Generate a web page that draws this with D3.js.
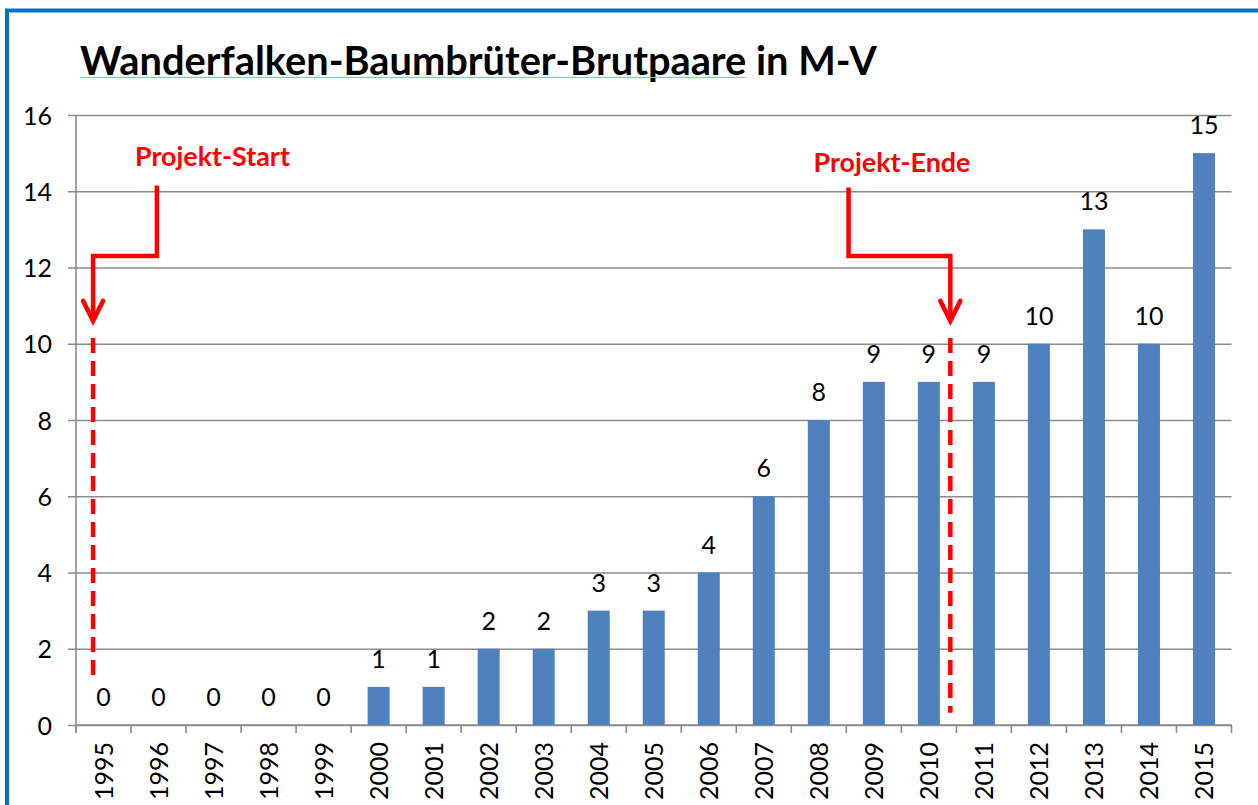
<!DOCTYPE html>
<html>
<head>
<meta charset="utf-8">
<script src="https://cdn.jsdelivr.net/npm/d3@7"></script>
<style>
  html, body { margin: 0; padding: 0; background: #fff; }
  svg { display: block; }
  text { font-family: Lato, "Open Sans", sans-serif; }
</style>
</head>
<body>
<svg id="chart" width="1258" height="805"></svg>
<script>
// ---- data ----
const years = ["1995","1996","1997","1998","1999","2000","2001","2002","2003","2004","2005",
               "2006","2007","2008","2009","2010","2011","2012","2013","2014","2015"];
const pairs = [0,0,0,0,0,1,1,2,2,3,3,4,6,8,9,9,9,10,13,10,15];
const yTicks = [0,2,4,6,8,10,12,14,16];
const titleText = "Wanderfalken-Baumbrüter-Brutpaare in M-V";
const titleUnderlined = "Wanderfalken-Baumbrüter-Brutpaare";
const annotations = [
  { label: "Projekt-Start", labelYear: "1997", labelFrac: 0.48, labelVal: 14.65, labelW: 155,
    topYear: "1996", topFrac: 0.47, topVal: 14.15, elbowVal: 12.3,
    tipYear: "1995", tipFrac: 0.31, tipVal: 10.6, dashFrom: 10.15, dashTo: 1.13 },
  { label: "Projekt-Ende", labelYear: "2009", labelFrac: 0.83, labelVal: 14.5, labelW: 157,
    topYear: "2009", topFrac: 0.04, topVal: 14.1, elbowVal: 12.3,
    tipYear: "2010", tipFrac: 0.89, tipVal: 10.6, dashFrom: 10.15, dashTo: 0.32 }
];

const svg = d3.select("#chart");
const m = { left: 76, right: 1231.5, top: 115, bottom: 725 };

// frame
svg.append("rect").attr("x", 7).attr("y", 10.5).attr("width", 1400).attr("height", 1000)
  .attr("fill", "none").attr("stroke", "#0070c0").attr("stroke-width", 4);

const x = d3.scaleBand().domain(years).range([m.left, m.right]).paddingInner(0.6).paddingOuter(0.3);
const y = d3.scaleLinear().domain([0, 16]).range([m.bottom, m.top]);
const xs = (yr, f) => x(yr) - x.step() * 0.3 + f * x.step(); // position within a category slot

// title
const title = svg.append("text").attr("x", 80).attr("y", 75)
  .attr("font-weight", "bold").attr("font-size", 35).attr("fill", "#000").text(titleText);
let tl = title.node().getComputedTextLength();
const tfs = 35 * 797 / tl;
title.attr("font-size", tfs);
const tmp = svg.append("text").attr("font-weight", "bold").attr("font-size", tfs).text(titleUnderlined);
const ulw = tmp.node().getComputedTextLength(); tmp.remove();
svg.append("line").attr("x1", 80).attr("x2", 80 + ulw).attr("y1", 77.5).attr("y2", 77.5)
  .attr("stroke", "#f0a0a0").attr("stroke-width", 1);

// gridlines + y axis
const gy = svg.append("g")
  .attr("transform", `translate(${m.left},0)`)
  .call(d3.axisLeft(y).tickValues(yTicks).tickSizeOuter(0));
gy.select(".domain").remove();
gy.selectAll(".tick line").attr("x1", -8).attr("x2", m.right - m.left)
  .attr("stroke", "#8c8c8c").attr("stroke-width", 1.6);
gy.selectAll(".tick text").attr("x", -24).attr("text-anchor", "end").attr("dy", "0.36em")
  .attr("font-size", 25).attr("fill", "#000").style("font-family", "Lato, sans-serif");

svg.append("line").attr("x1", m.left).attr("x2", m.left).attr("y1", m.top).attr("y2", m.bottom + 8)
  .attr("stroke", "#8c8c8c").attr("stroke-width", 1.6);

// x axis
const gx = svg.append("g").attr("transform", `translate(0,${m.bottom})`)
  .call(d3.axisBottom(x).tickSize(0).tickSizeOuter(0));
gx.select(".domain").attr("stroke", "#8c8c8c").attr("stroke-width", 1.6)
  .attr("d", `M${m.left},0H${m.right}`);
gx.selectAll(".tick text")
  .attr("transform", "translate(0,17) rotate(-90)")
  .attr("x", 0).attr("y", 0).attr("dy", "0.36em")
  .attr("text-anchor", "end")
  .attr("font-size", 25).attr("fill", "#000").style("font-family", "Lato, sans-serif");
const bounds = years.map(yr => xs(yr, 0)).concat([xs(years[years.length - 1], 1)]);
gx.selectAll(".bt").data(bounds).join("line").attr("class", "bt")
  .attr("x1", d => d).attr("x2", d => d).attr("y1", 0).attr("y2", 8)
  .attr("stroke", "#8c8c8c").attr("stroke-width", 1.6);

// bars
svg.append("g").selectAll("rect").data(years).join("rect")
  .attr("x", d => x(d)).attr("width", x.bandwidth())
  .attr("y", (d, i) => y(pairs[i])).attr("height", (d, i) => y(0) - y(pairs[i]))
  .attr("fill", "#4f81bd");

// value labels
svg.append("g").selectAll("text").data(years).join("text")
  .attr("x", d => x(d) + x.bandwidth() / 2)
  .attr("y", (d, i) => y(pairs[i]) - 19)
  .attr("text-anchor", "middle").attr("font-size", 25).attr("fill", "#000")
  .text((d, i) => pairs[i]);

// annotations
const red = "#ff0000";
annotations.forEach(a => {
  const g = svg.append("g");
  const lx = xs(a.labelYear, a.labelFrac);
  const t = g.append("text").attr("x", lx).attr("y", y(a.labelVal))
    .attr("text-anchor", "middle").attr("font-weight", "bold").attr("font-size", 24)
    .attr("fill", red).text(a.label);
  const w = t.node().getComputedTextLength();
  t.attr("font-size", 24 * a.labelW / w);
  const tx = xs(a.topYear, a.topFrac), px = xs(a.tipYear, a.tipFrac);
  const tipY = y(a.tipVal);
  g.append("path")
    .attr("d", `M${tx},${y(a.topVal)}V${y(a.elbowVal)}H${px}V${tipY - 3}`)
    .attr("fill", "none").attr("stroke", red).attr("stroke-width", 4.5).attr("stroke-linejoin", "miter");
  g.append("path")
    .attr("d", `M${px - 10},${tipY - 20}L${px},${tipY}L${px + 10},${tipY - 20}`)
    .attr("fill", "none").attr("stroke", red).attr("stroke-width", 4.5).attr("stroke-linecap", "round");
  g.append("line").attr("x1", px).attr("x2", px).attr("y1", y(a.dashFrom)).attr("y2", y(a.dashTo))
    .attr("stroke", red).attr("stroke-width", 4.5).attr("stroke-dasharray", "15,8");
});
</script>
</body>
</html>
